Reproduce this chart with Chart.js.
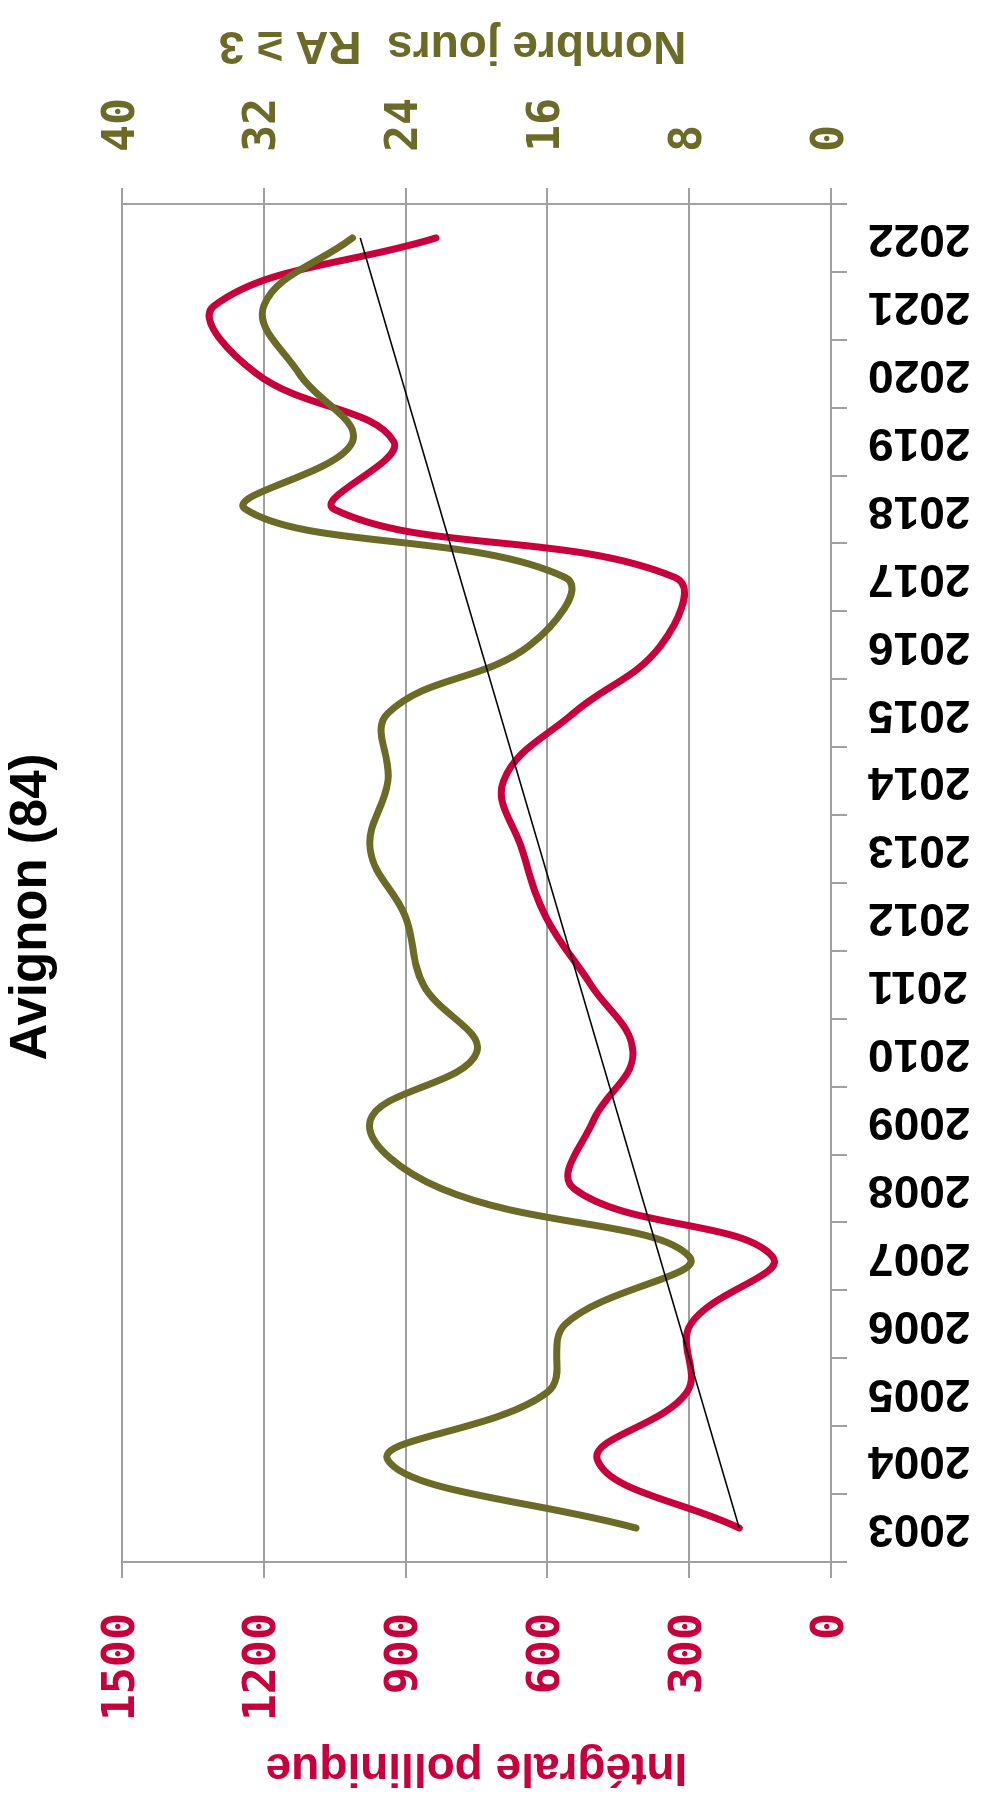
<!DOCTYPE html>
<html>
<head>
<meta charset="utf-8">
<script src="https://cdn.jsdelivr.net/npm/chart.js@4.4.1/dist/chart.umd.min.js"></script>
<style>
  html, body { margin: 0; padding: 0; background: #fff; }
  body { width: 985px; height: 1798px; overflow: hidden; position: relative; }
  /* the chart is drawn upright, then turned a quarter turn to the left */
  #wrap {
    position: absolute; left: 0; top: 0;
    width: 1798px; height: 985px;
    transform-origin: 0 0;
    transform: translateY(1798px) rotate(-90deg);
  }
</style>
</head>
<body>
<div id="wrap"><canvas id="chart" width="1798" height="985"></canvas></div>
<script>
// ── Data ────────────────────────────────────────────────────────────────────
const YEARS = ['2003', '2004', '2005', '2006', '2007', '2008', '2009', '2010', '2011', '2012',
               '2013', '2014', '2015', '2016', '2017', '2018', '2019', '2020', '2021', '2022'];
const POLLEN = [194, 494, 305, 297, 124, 544, 503, 419, 508, 603,
                654, 693, 545, 360, 330, 1050, 925, 1215, 1305, 836];
const DAYS_RA3 = [11, 25, 16, 15, 8, 22, 26, 20, 23, 24,
                  26, 25, 25, 17, 15, 33, 27, 30, 32, 27];
// linear trend of the pollen series, read at its two ends (2003, 2022)
const TREND_ENDS = [194, 996];

const TITLE = 'Avignon (84)';
const LEFT_TITLE = 'Intégrale pollinique';
const RIGHT_TITLE = 'Nombre jours  RA \u2265 3';

// ── Palette ─────────────────────────────────────────────────────────────────
const RED = '#c8003c';
const OLIVE = '#6b6a27';
const GRID = '#a0a0a0';

const trend = YEARS.map((_, i) =>
  i === 0 ? TREND_ENDS[0] : (i === YEARS.length - 1 ? TREND_ENDS[1] : null));

const tickFont = { family: "'DejaVu Sans Mono', monospace", weight: 'bold', size: 45 };
const plain = v => String(v);

// Axis titles and chart title, drawn after the chart
const titlesPlugin = {
  id: 'titles',
  afterDraw(chart) {
    const { ctx, chartArea: a } = chart;
    const midY = (a.top + a.bottom) / 2;
    ctx.save();
    ctx.textAlign = 'center';

    ctx.fillStyle = '#000';
    ctx.font = "bold 51px 'Liberation Sans', Arial, sans-serif";
    ctx.textBaseline = 'top';
    ctx.fillText(TITLE, chart.width / 2 - 8, 6);

    ctx.textBaseline = 'middle';
    ctx.font = "bold 46px 'Liberation Sans', Arial, sans-serif";

    ctx.save();
    ctx.fillStyle = RED;
    ctx.translate(a.left - 205, midY);
    ctx.rotate(-Math.PI / 2);
    ctx.fillText(LEFT_TITLE, 0, 0);
    ctx.restore();

    ctx.save();
    ctx.fillStyle = OLIVE;
    ctx.translate(a.right + 159, midY - 24);
    ctx.rotate(-Math.PI / 2);
    ctx.fillText(RIGHT_TITLE, 0, 0);
    ctx.restore();

    ctx.restore();
  },
};

new Chart(document.getElementById('chart'), {
  type: 'line',
  data: {
    labels: YEARS,
    datasets: [
      {
        label: LEFT_TITLE,
        data: POLLEN,
        yAxisID: 'y',
        borderColor: RED,
        borderWidth: 7,
        borderCapStyle: 'round',
        tension: 0.4,
        pointRadius: 0,
        order: 2,
      },
      {
        label: RIGHT_TITLE,
        data: DAYS_RA3,
        yAxisID: 'y1',
        borderColor: OLIVE,
        borderWidth: 7,
        borderCapStyle: 'round',
        tension: 0.4,
        pointRadius: 0,
        order: 1,
      },
      {
        label: 'Tendance',
        data: trend,
        yAxisID: 'y',
        borderColor: '#000',
        borderWidth: 1.5,
        tension: 0,
        spanGaps: true,
        pointRadius: 0,
        order: 0,
      },
    ],
  },
  options: {
    responsive: false,
    animation: false,
    layout: { padding: { top: 122, left: 0, right: 0, bottom: 0 } },
    plugins: {
      legend: { display: false },
      tooltip: { enabled: false },
      title: { display: false },
    },
    scales: {
      x: {
        offset: true,
        grid: { offset: true, drawOnChartArea: false, tickLength: 16, color: GRID, lineWidth: 2 },
        border: { color: GRID, width: 2 },
        ticks: {
          autoSkip: false,
          minRotation: 90,
          maxRotation: 90,
          padding: 21,
          color: '#000',
          font: { family: "'Liberation Sans', Arial, sans-serif", weight: 'bold', size: 46 },
        },
        afterFit: s => { s.height = 154; },
      },
      y: {
        position: 'left',
        min: 0,
        max: 1500,
        ticks: { stepSize: 300, padding: 35, color: RED, font: tickFont, callback: plain },
        grid: { color: GRID, lineWidth: 2, tickLength: 16 },
        border: { color: GRID, width: 2 },
        afterFit: s => { s.width = 236; },
      },
      y1: {
        position: 'right',
        min: 0,
        max: 40,
        ticks: { stepSize: 8, padding: 36, color: OLIVE, font: tickFont, callback: plain },
        grid: { drawOnChartArea: false, color: GRID, lineWidth: 2, tickLength: 16 },
        border: { color: GRID, width: 2 },
        afterFit: s => { s.width = 204; },
      },
    },
  },
  plugins: [titlesPlugin],
});
</script>
</body>
</html>
